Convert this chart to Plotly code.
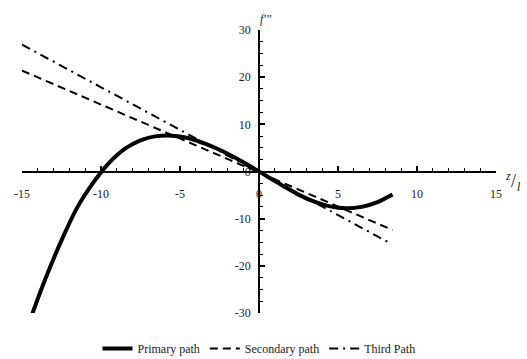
import plotly.graph_objects as go

# Primary path
primary_x = [-14.35, -13.5, -12.5, -11.5, -10.5, -9.5, -8.5, -7.5, -6.5, -5.5, -4.5, -3.5, -2.5, -1.5, -0.5,
             0.5, 1.5, 2.5, 3.5, 4.5, 5.5, 6.5, 7.5, 8.45]
primary_y = [-30.2, -22.6, -14.6, -7.6, -2.4, 1.8, 4.8, 6.6, 7.5, 7.6, 7.1, 6.0, 4.6, 2.9, 1.0,
             -1.0, -3.0, -4.9, -6.4, -7.4, -7.8, -7.5, -6.5, -4.9]

# Secondary path
secondary_x = [-15.0, 8.45]
secondary_y = [21.4, -12.4]

# Third path
third_x = [-15.0, 8.3]
third_y = [26.9, -15.2]

x_tickvals = [-15, -10, -5, 0, 5, 10, 15]
x_ticktext = ["-15", "-10", "-5", "0", "5", "10", "15"]
y_tickvals = [-30, -20, -10, 0, 10, 20, 30]
y_ticktext = ["-30", "-20", "-10", "0", "10", "20", "30"]

FONT = "Liberation Serif"

fig = go.Figure()
fig.add_trace(go.Scatter(x=primary_x, y=primary_y, mode="lines", name="Primary path",
                         line=dict(color="black", width=4, shape="spline", smoothing=1.0)))
fig.add_trace(go.Scatter(x=secondary_x, y=secondary_y, mode="lines", name="Secondary path",
                         line=dict(color="black", width=2, dash="8px,5px")))
fig.add_trace(go.Scatter(x=third_x, y=third_y, mode="lines", name="Third Path",
                         line=dict(color="black", width=2, dash="9px,5px,2px,5px")))

axis_common = dict(showgrid=False, zeroline=False, showline=True, linecolor="black", linewidth=1.5,
                   ticks="inside", ticklen=5, tickwidth=1.5, tickcolor="black",
                   anchor="free", position=0.5,
                   tickfont=dict(family=FONT, size=12, color="#222"))

fig.update_layout(
    width=527, height=359,
    margin=dict(l=21.5, r=30.5, t=30, b=46, autoexpand=False),
    paper_bgcolor="white", plot_bgcolor="white",
    font=dict(family=FONT, size=12, color="#222"),
    xaxis=dict(range=[-15, 15], tickvals=x_tickvals, ticktext=x_ticktext, ticklabelstandoff=11,
               minor=dict(dtick=1, tick0=0, ticks="inside", ticklen=3, tickwidth=1, tickcolor="black"),
               **axis_common),
    yaxis=dict(range=[-30, 30], tickvals=y_tickvals, ticktext=y_ticktext, ticklabelstandoff=5,
               minor=dict(dtick=2.5, tick0=0, ticks="inside", ticklen=3, tickwidth=1, tickcolor="black"),
               **axis_common),
    legend=dict(orientation="h", x=0.5, xanchor="center", y=-0.125, yanchor="middle",
                font=dict(family=FONT, size=12, color="#222"), bgcolor="rgba(0,0,0,0)"),
    showlegend=True,
    annotations=[
        dict(text="<i>f'''</i>", xref="paper", yref="paper", x=0.514, y=1.07,
             showarrow=False, font=dict(family=FONT, size=12, color="#222")),
        dict(text="<i>z</i>", xref="paper", yref="paper", x=1.035, y=0.485,
             showarrow=False, font=dict(family=FONT, size=12, color="#222")),
        dict(text="/", xref="paper", yref="paper", x=1.047, y=0.468,
             showarrow=False, font=dict(family=FONT, size=18, color="#222")),
        dict(text="<i>l</i>", xref="paper", yref="paper", x=1.058, y=0.445,
             showarrow=False, font=dict(family=FONT, size=12, color="#222")),
    ],
)

fig.write_html("out.html")
